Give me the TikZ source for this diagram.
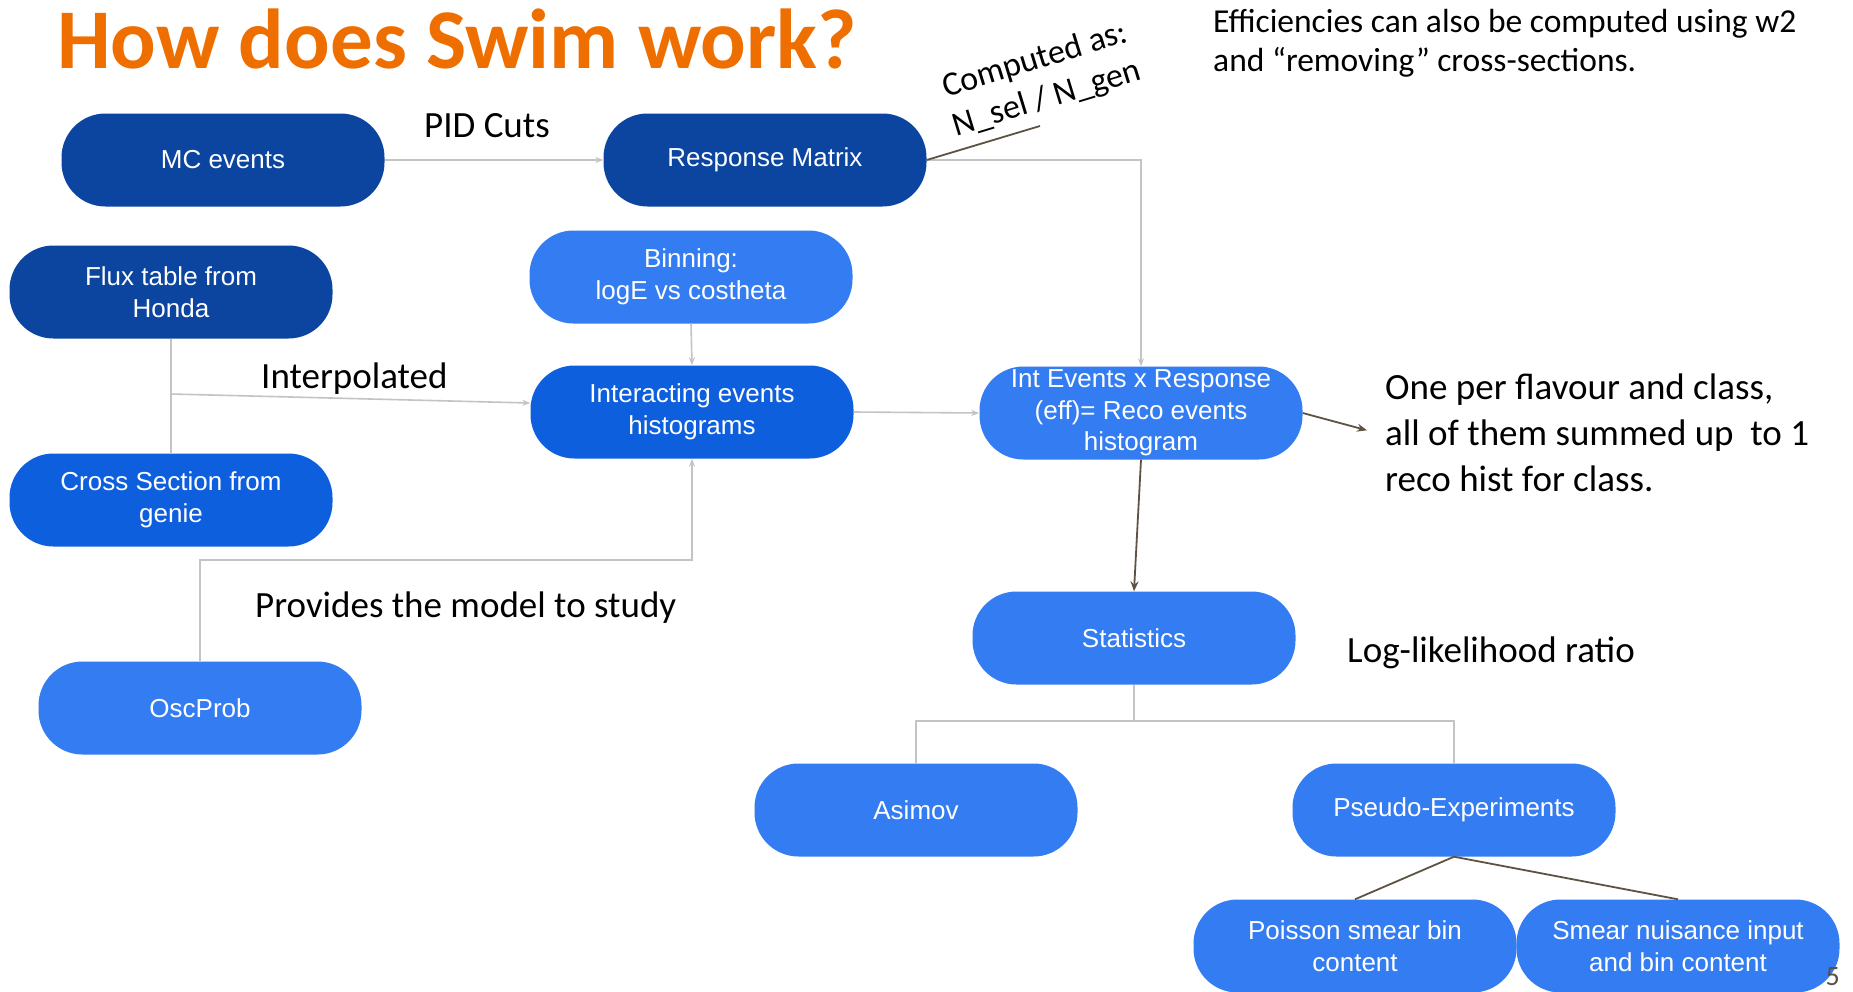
\documentclass[tikz,border=0pt]{standalone}
\usepackage{fontspec}
\setmainfont{Carlito}
\newfontfamily\nodefont{Liberation Sans}
\usetikzlibrary{arrows.meta}
\definecolor{dkblue}{HTML}{0B45A0}
\definecolor{mdblue}{HTML}{0E5FDD}
\definecolor{ltblue}{HTML}{337CF2}
\definecolor{lgray}{HTML}{C4C4C4}
\definecolor{brn}{HTML}{5E5343}
\definecolor{ttl}{HTML}{EE6E00}
\definecolor{pgnum}{HTML}{5A5248}
\tikzset{
  box/.style={rounded corners=44pt, minimum width=323pt, minimum height=93pt, text=white,
    align=center, inner sep=0pt, font=\nodefont\fontsize{26}{31.5}\selectfont},
  dk/.style={box, fill=dkblue},
  md/.style={box, fill=mdblue},
  lt/.style={box, fill=ltblue},
  gline/.style={draw=lgray, line width=1.6pt},
  garrow/.style={gline, -{Stealth[length=8pt,width=6pt]}},
  bline/.style={draw=brn, line width=1.8pt},
  barrow/.style={bline, -{Stealth[length=10pt,width=8pt]}},
  lbl/.style={inner sep=0pt, text=black, font=\fontsize{37}{45}\selectfont},
}
\begin{document}
\begin{tikzpicture}[x=1pt,y=-1pt]
\useasboundingbox[fill=white] (0,0) rectangle (1853,991);

\node[anchor=base west, inner sep=0pt, text=ttl, font=\fontsize{85}{100}\selectfont\bfseries] (title) at (57,68) {How does Swim work?};

% nodes
\node[dk] (mc) at (223,160) {MC events};
\node[dk] (rm) at (765,160) {Response Matrix};
\node[dk] (flux) at (171,292) {Flux table from\\Honda};
\node[lt] (bin) at (691,277) {Binning:\\logE vs costheta};
\node[md] (inter) at (692,412) {Interacting events\\histograms};
\node[lt] (ie) at (1141,413) {Int Events x Response\\(eff)= Reco events\\histogram};
\node[md] (xs) at (171,500) {Cross Section from\\genie};
\node[lt] (osc) at (200,708) {OscProb};
\node[lt] (stat) at (1134,638) {Statistics};
\node[lt] (asimov) at (916,810) {Asimov};
\node[lt] (pseudo) at (1454,810) {Pseudo-Experiments};
\node[lt] (poisson) at (1355,946) {Poisson smear bin\\content};
\node[lt] (smear) at (1678,946) {Smear nuisance input\\and bin content};

% labels
\node[lbl, anchor=base west] (pid) at (424,137) {PID Cuts};
\node[lbl, anchor=base west] (interp) at (261,388) {Interpolated};
\node[lbl, anchor=base west] (provides) at (255,617) {Provides the model to study};
\node[lbl, anchor=base west] (llr) at (1347,662) {Log-likelihood ratio};
\node[lbl, anchor=base west, align=left, font=\fontsize{37}{46}\selectfont] (oneper) at (1385,491) {One per flavour and class,\\all of them summed up\ \ to 1\\reco hist for class.};
\node[lbl, anchor=base west, align=left, font=\fontsize{33.5}{39}\selectfont] (eff) at (1213,71) {Efficiencies can also be computed using w2\\and “removing” cross-sections.};
\node[lbl, align=center, rotate=17, font=\fontsize{34}{40}\selectfont] (comp) at (1041,80) {Computed as:\\N\_sel / N\_gen};
\node[inner sep=0pt, anchor=base east, text=pgnum, font=\fontsize{28}{30}\selectfont] (pg) at (1840,985) {5};

% connectors
\draw[garrow] (mc.east) -- (rm.west);
\draw[garrow] (rm.east) -| (ie.north);
\coordinate (cmpend) at (1040,126);
\draw[bline] (rm.east) -- (cmpend);
\draw[garrow] (bin.south) -- (inter.north);
\draw[gline] (flux.south) -- (xs.north);
\coordinate (fj) at (171,394);
\draw[garrow] (fj) -- ([yshift=9pt]inter.west);
\coordinate (oscturn) at (200,560);
\draw[garrow] (osc.north) -- (oscturn) -| (inter.south);
\draw[garrow] (inter.east) -- (ie.west);
\draw[barrow] (ie.east) -- ([xshift=-18pt,yshift=2pt]oneper.west);
\draw[barrow] (ie.south) -- (stat.north);
\coordinate (tj) at (1134,721);
\draw[gline] (stat.south) -- (tj);
\draw[gline] (asimov.north) -- (asimov.north |- tj) -- (pseudo.north |- tj) -- (pseudo.north);
\draw[bline] (pseudo.south) -- (poisson.north);
\draw[bline] (pseudo.south) -- (smear.north);
\end{tikzpicture}
\end{document}
